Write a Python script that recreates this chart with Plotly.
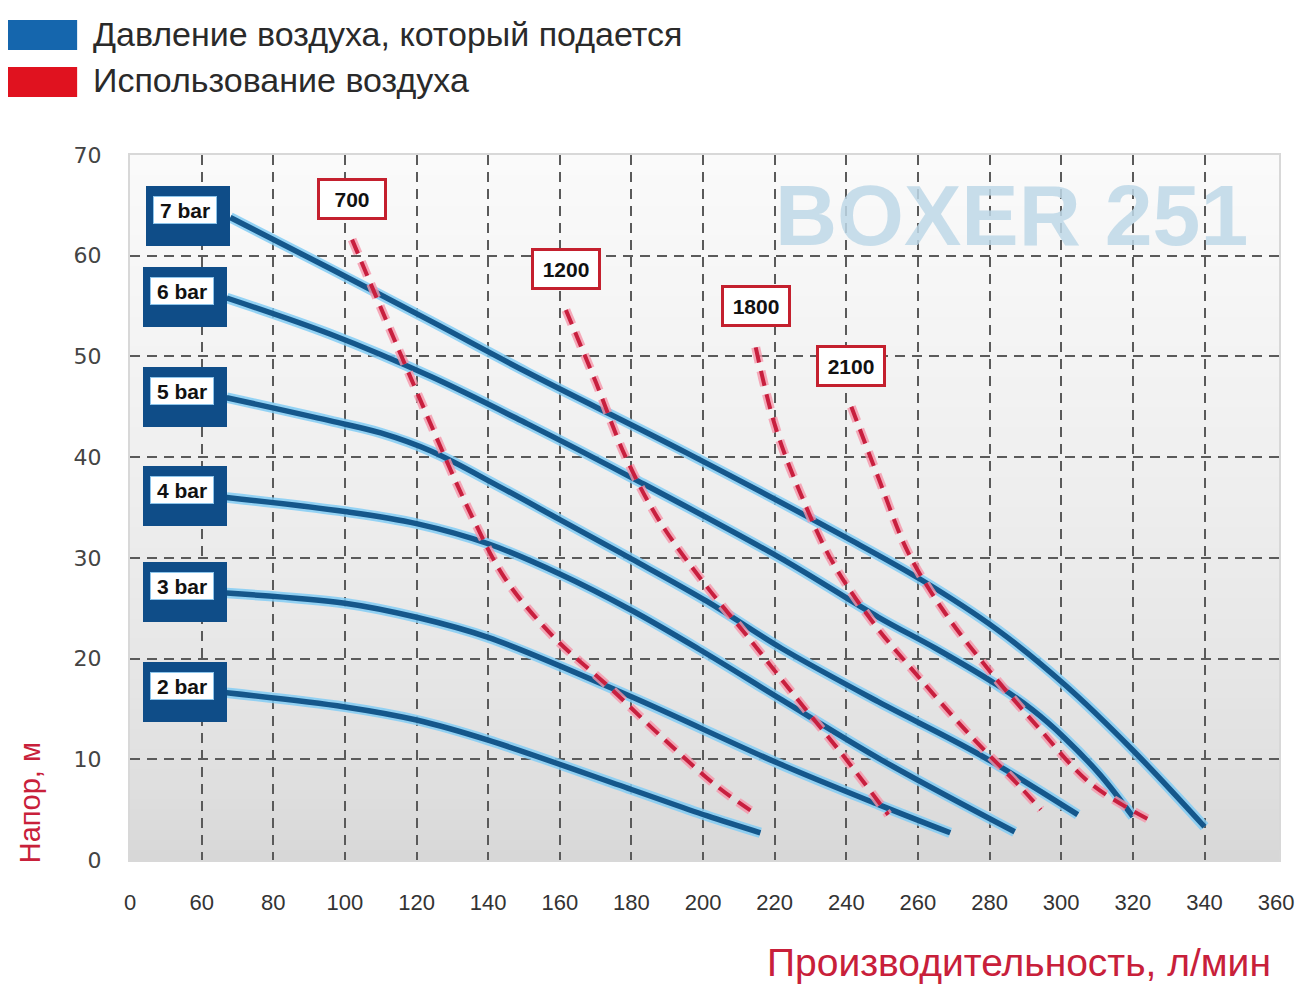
import plotly.graph_objects as go

# ---------------- data ----------------
x_tick_vals = [40, 60, 80, 100, 120, 140, 160, 180, 200, 220, 240, 260, 280, 300, 320, 340, 360]
x_tick_text = ["0", "60", "80", "100", "120", "140", "160", "180", "200", "220", "240", "260",
               "280", "300", "320", "340", "360"]
y_tick_vals = [0, 10, 20, 30, 40, 50, 60, 70]

bar_labels = ["7 bar", "6 bar", "5 bar", "4 bar", "3 bar", "2 bar"]
x_7bar = [68, 96, 124, 151, 195, 240, 261, 282, 301, 320, 340]
y_7bar = [63.8, 58.7, 53.5, 48.4, 40.5, 32.0, 27.8, 22.9, 17.4, 10.9, 3.3]
x_6bar = [67, 96, 124, 151, 182, 222, 249, 265, 282, 292, 301, 311, 320]
y_6bar = [55.8, 52.2, 48.0, 43.3, 37.6, 29.9, 24.1, 21.0, 17.4, 14.9, 12.1, 8.4, 4.3]
x_5bar = [67, 96, 110, 124, 143, 160, 180, 201, 222, 249, 277, 304.6]
y_5bar = [45.9, 43.6, 42.4, 40.6, 37.1, 33.8, 29.9, 25.7, 21.0, 15.7, 10.5, 4.5]
x_4bar = [67, 100, 120, 140, 160, 180, 199, 222, 250, 287]
y_4bar = [36.0, 34.6, 33.4, 31.4, 28.4, 24.8, 20.9, 15.9, 9.9, 2.8]
x_3bar = [67, 100, 120, 140, 180, 221, 249, 269]
y_3bar = [26.5, 25.5, 24.1, 22.1, 16.2, 9.6, 5.5, 2.7]
x_2bar = [67, 100, 120, 140, 180, 201, 216]
y_2bar = [16.6, 15.2, 13.9, 11.9, 7.0, 4.4, 2.7]

air_labels = ["700", "1200", "1800", "2100"]
x_700 = [102, 118.6, 135.5, 145, 158.4, 173.7, 188.5, 204.3, 215]
y_700 = [61.6, 47.7, 34.1, 27.8, 22.1, 17.2, 12.2, 7.2, 4.5]
x_1200 = [161.7, 170.1, 178.4, 187.6, 199.6, 213.3, 225.8, 238.6, 251.7]
y_1200 = [54.6, 47.4, 40.0, 33.8, 27.8, 21.8, 16.2, 10.6, 4.5]
x_1800 = [214.7, 220.2, 227.2, 235.8, 247.0, 260.1, 274.0, 288.7, 294.3]
y_1800 = [50.9, 43.0, 36.4, 29.8, 23.8, 18.2, 12.6, 7.2, 5.0]
x_2100 = [241.4, 248.9, 257.3, 267.6, 280.4, 293.5, 308.2, 326.1]
y_2100 = [45.0, 38.0, 30.5, 24.5, 18.6, 13.2, 7.6, 3.7]

legend_names = ["Давление воздуха, который подается", "Использование воздуха"]
x_title = "Производительность, л/мин"
y_title = "Напор, м"
watermark = "BOXER 251"

# ---------------- styles ----------------
OFF = 8  # default page margin of the html body
W, H = 1306 - OFF, 1000 - OFF
ML, MT = 130 - OFF, 155 - OFF
MR = W - (1282 - OFF)
MB = H - (860 - OFF)
PW, PH = W - ML - MR, H - MT - MB
BLUE = "#15578b"
BLUE_GLOW = "rgba(130,205,245,0.85)"
RED = "#c81f3e"
RED_GLOW = "rgba(245,150,170,0.8)"
BASE = "#0f4d88"


def px2paper_x(px):
    return (px - OFF - ML) / PW


def px2paper_y(py):
    return (H - MB - (py - OFF)) / PH


fig = go.Figure()

blue_curves = [(x_7bar, y_7bar), (x_6bar, y_6bar), (x_5bar, y_5bar),
               (x_4bar, y_4bar), (x_3bar, y_3bar), (x_2bar, y_2bar)]
red_curves = [(x_700, y_700), (x_1200, y_1200), (x_1800, y_1800), (x_2100, y_2100)]

for (xs, ys), name in zip(blue_curves, bar_labels):
    fig.add_trace(go.Scatter(x=xs, y=ys, mode="lines", line=dict(color=BLUE_GLOW, width=10.5, shape="spline"),
                             hoverinfo="skip", showlegend=False))
    fig.add_trace(go.Scatter(x=xs, y=ys, mode="lines", name=name,
                             line=dict(color=BLUE, width=5.5, shape="spline"), showlegend=False))

for (xs, ys), name in zip(red_curves, air_labels):
    fig.add_trace(go.Scatter(x=xs, y=ys, mode="lines",
                             line=dict(color=RED_GLOW, width=9, shape="spline", dash="15px,9px"),
                             hoverinfo="skip", showlegend=False))
    fig.add_trace(go.Scatter(x=xs, y=ys, mode="lines", name=name,
                             line=dict(color=RED, width=4, shape="spline", dash="15px,9px"),
                             showlegend=False))

annotations = []
shapes = []

# gradient background
N = 70
for i in range(N):
    t0 = i / N
    t1 = (i + 1) / N
    tm = (t0 + t1) / 2
    v = int(round(213 + 37 * (tm ** 0.6)))
    shapes.append(dict(type="rect", xref="x domain", yref="y domain", x0=0, x1=1, y0=t0, y1=t1 + 0.002,
                       fillcolor=f"rgb({v},{v},{v})", line=dict(width=0), layer="below"))

# watermark
annotations.append(dict(x=286.0, y=64.0, xref="x", yref="y", text=f"<b>{watermark}</b>", showarrow=False,
                        font=dict(family="Liberation Sans", size=86, color="rgba(190,216,232,0.85)")))

# bar labels
for (xs, ys), name in zip(blue_curves, bar_labels):
    annotations.append(dict(x=xs[0], y=ys[0], xref="x", yref="y", text=" ", showarrow=False,
                            xanchor="right", yanchor="middle", yshift=1, width=84, height=60,
                            bgcolor=BASE, borderwidth=0, borderpad=0))
    annotations.append(dict(x=xs[0], y=ys[0], xref="x", yref="y", text=name, showarrow=False,
                            xanchor="right", yanchor="middle", xshift=-13, yshift=7, width=62, height=26,
                            bgcolor="white", bordercolor="#8cc4ea", borderwidth=1, borderpad=0,
                            font=dict(family="Liberation Sans", size=21, color="#111", weight="bold")))

# air usage labels
for (xs, ys), name in zip(red_curves, air_labels):
    annotations.append(dict(x=xs[0], y=ys[0], xref="x", yref="y", text=name, showarrow=False,
                            xanchor="center", yanchor="bottom", yshift=20, width=64, height=36,
                            bgcolor="white", bordercolor="#c4202e", borderwidth=3, borderpad=0,
                            font=dict(family="Liberation Sans", size=21, color="#111", weight="bold")))

# legend (manual)
shapes.append(dict(type="rect", xref="paper", yref="paper", x0=px2paper_x(5), x1=px2paper_x(77),
                   y0=px2paper_y(50), y1=px2paper_y(20), fillcolor="#1566ad", line=dict(width=0)))
shapes.append(dict(type="rect", xref="paper", yref="paper", x0=px2paper_x(5), x1=px2paper_x(77),
                   y0=px2paper_y(97), y1=px2paper_y(67), fillcolor="#e0121f", line=dict(width=0)))
annotations.append(dict(x=px2paper_x(91), y=px2paper_y(34), xref="paper", yref="paper", text=legend_names[0],
                        showarrow=False, xanchor="left", yanchor="middle",
                        font=dict(family="Liberation Sans", size=34, color="#2a2a2a")))
annotations.append(dict(x=px2paper_x(91), y=px2paper_y(80), xref="paper", yref="paper", text=legend_names[1],
                        showarrow=False, xanchor="left", yanchor="middle",
                        font=dict(family="Liberation Sans", size=34, color="#2a2a2a")))

# axis titles
annotations.append(dict(x=px2paper_x(30), y=px2paper_y(803), xref="paper", yref="paper", text=y_title,
                        showarrow=False, textangle=-90, xanchor="center", yanchor="middle",
                        font=dict(family="Liberation Sans", size=29, color="#c8203a")))
annotations.append(dict(x=px2paper_x(1276), y=px2paper_y(963), xref="paper", yref="paper", text=x_title,
                        showarrow=False, xanchor="right", yanchor="middle",
                        font=dict(family="Liberation Sans", size=39, color="#c8203a")))

grid_x = x_tick_vals[1:-1]
grid_y = y_tick_vals[1:-1]

fig.update_layout(
    width=W, height=H,
    margin=dict(l=ML, r=MR, t=MT, b=MB),
    paper_bgcolor="white", plot_bgcolor="white",
    showlegend=False,
    shapes=shapes, annotations=annotations,
    xaxis=dict(range=[40, 360.8], tickmode="array", tickvals=x_tick_vals, ticktext=x_tick_text,
               showgrid=False, zeroline=False, showline=True, linecolor="#d8d8d8", linewidth=2, mirror=True,
               ticks="", ticklabelstandoff=22,
               tickfont=dict(family="Liberation Sans", size=22, color="#333"),
               minor=dict(tickmode="array", tickvals=grid_x, showgrid=True, gridcolor="#5a5a5a",
                          gridwidth=1.6, griddash="10px,7px", ticks="")),
    yaxis=dict(range=[0, 70], tickmode="array", tickvals=y_tick_vals,
               showgrid=False, zeroline=False, showline=True, linecolor="#d8d8d8", linewidth=2, mirror=True,
               ticks="", ticklabelstandoff=22,
               tickfont=dict(family="DejaVu Sans", size=22, color="#444"),
               minor=dict(tickmode="array", tickvals=grid_y, showgrid=True, gridcolor="#5a5a5a",
                          gridwidth=1.6, griddash="10px,7px", ticks="")),
)

fig.write_html("out.html")
